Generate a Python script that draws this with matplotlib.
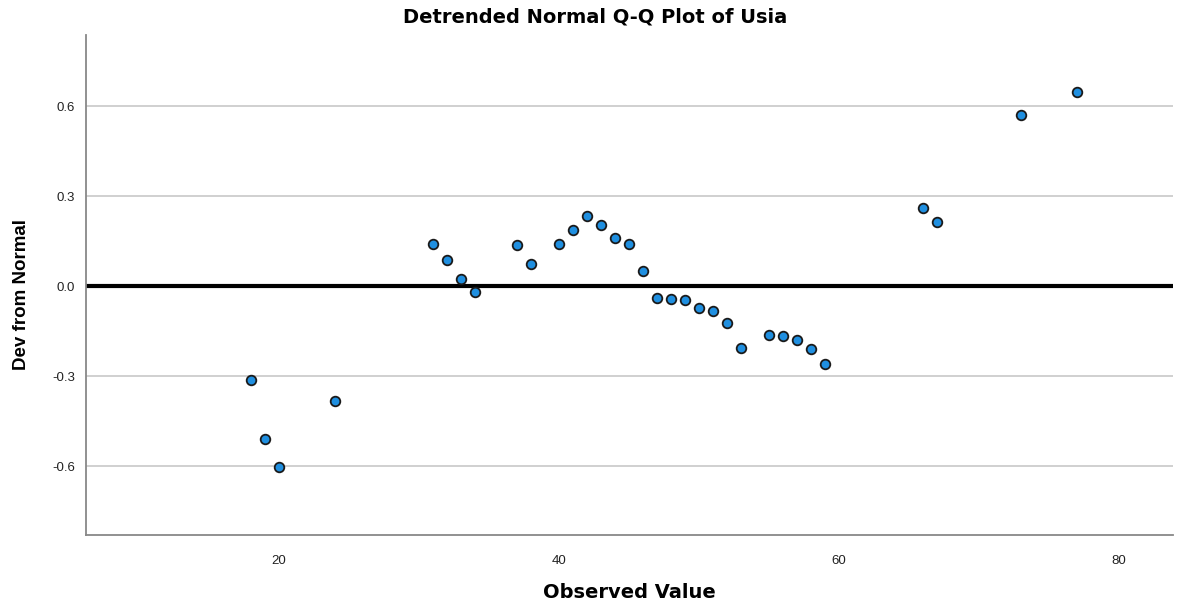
import numpy as np
import matplotlib
matplotlib.use("Agg")
from matplotlib import pyplot as plt

plt.rcParams['font.family'] = ['Liberation Sans', 'DejaVu Sans']

observed = [18, 19, 20, 24, 31, 32, 33, 34, 37, 38, 40, 41, 42, 43, 44, 45, 46,
            47, 48, 49, 50, 51, 52, 53, 55, 56, 57, 58, 59, 66, 67, 73, 77]
dev_from_normal = [-0.313, -0.51, -0.603, -0.383, 0.14, 0.087, 0.023, -0.02,
                   0.137, 0.073, 0.14, 0.187, 0.233, 0.203, 0.16, 0.14, 0.05,
                   -0.04, -0.043, -0.047, -0.073, -0.083, -0.123, -0.207,
                   -0.163, -0.167, -0.18, -0.21, -0.26, 0.26, 0.213, 0.57, 0.647]
y_ticks = [-0.6, -0.3, 0.0, 0.3, 0.6]
x_ticks = [20, 40, 60, 80]

fig = plt.figure(figsize=(11.79, 6.04), dpi=100)
ax = fig.add_axes([0.073, 0.114, 0.922, 0.828])

for t in y_ticks:
    if t != 0:
        ax.axhline(t, color="#c8c8c8", lw=1.2, zorder=1)
ax.axhline(0, color="black", lw=3, zorder=2)

ax.scatter(observed, dev_from_normal, s=48, facecolor="#1f8fe0",
           edgecolor="#1a1a1a", linewidth=1.3, zorder=3)

ax.set_xlim(6.2, 83.9)
ax.set_ylim(-0.83, 0.837)
ax.set_xticks(x_ticks)
ax.set_yticks(y_ticks)
ax.set_yticklabels(["-0.6", "-0.3", "0.0", "0.3", "0.6"])
ax.tick_params(length=0, labelsize=9.5, colors="#222222", pad=14)
ax.tick_params(axis="y", pad=8)

for side in ["top", "right"]:
    ax.spines[side].set_visible(False)
for side in ["left", "bottom"]:
    ax.spines[side].set_color("#888888")
    ax.spines[side].set_linewidth(1.3)

fig.text(0.505, 0.972, "Detrended Normal Q-Q Plot of Usia", fontsize=14,
         fontweight="bold", family=["DejaVu Sans"], ha="center", va="center")
ax.set_xlabel("Observed Value", fontsize=14, fontweight="bold",
              family=["DejaVu Sans"], labelpad=12)
fig.text(0.018, 0.512, "Dev from Normal", fontsize=13.5, fontweight="bold",
         family=["Liberation Sans"], rotation=90, ha="center", va="center")

fig.savefig("out.png", dpi=100)
